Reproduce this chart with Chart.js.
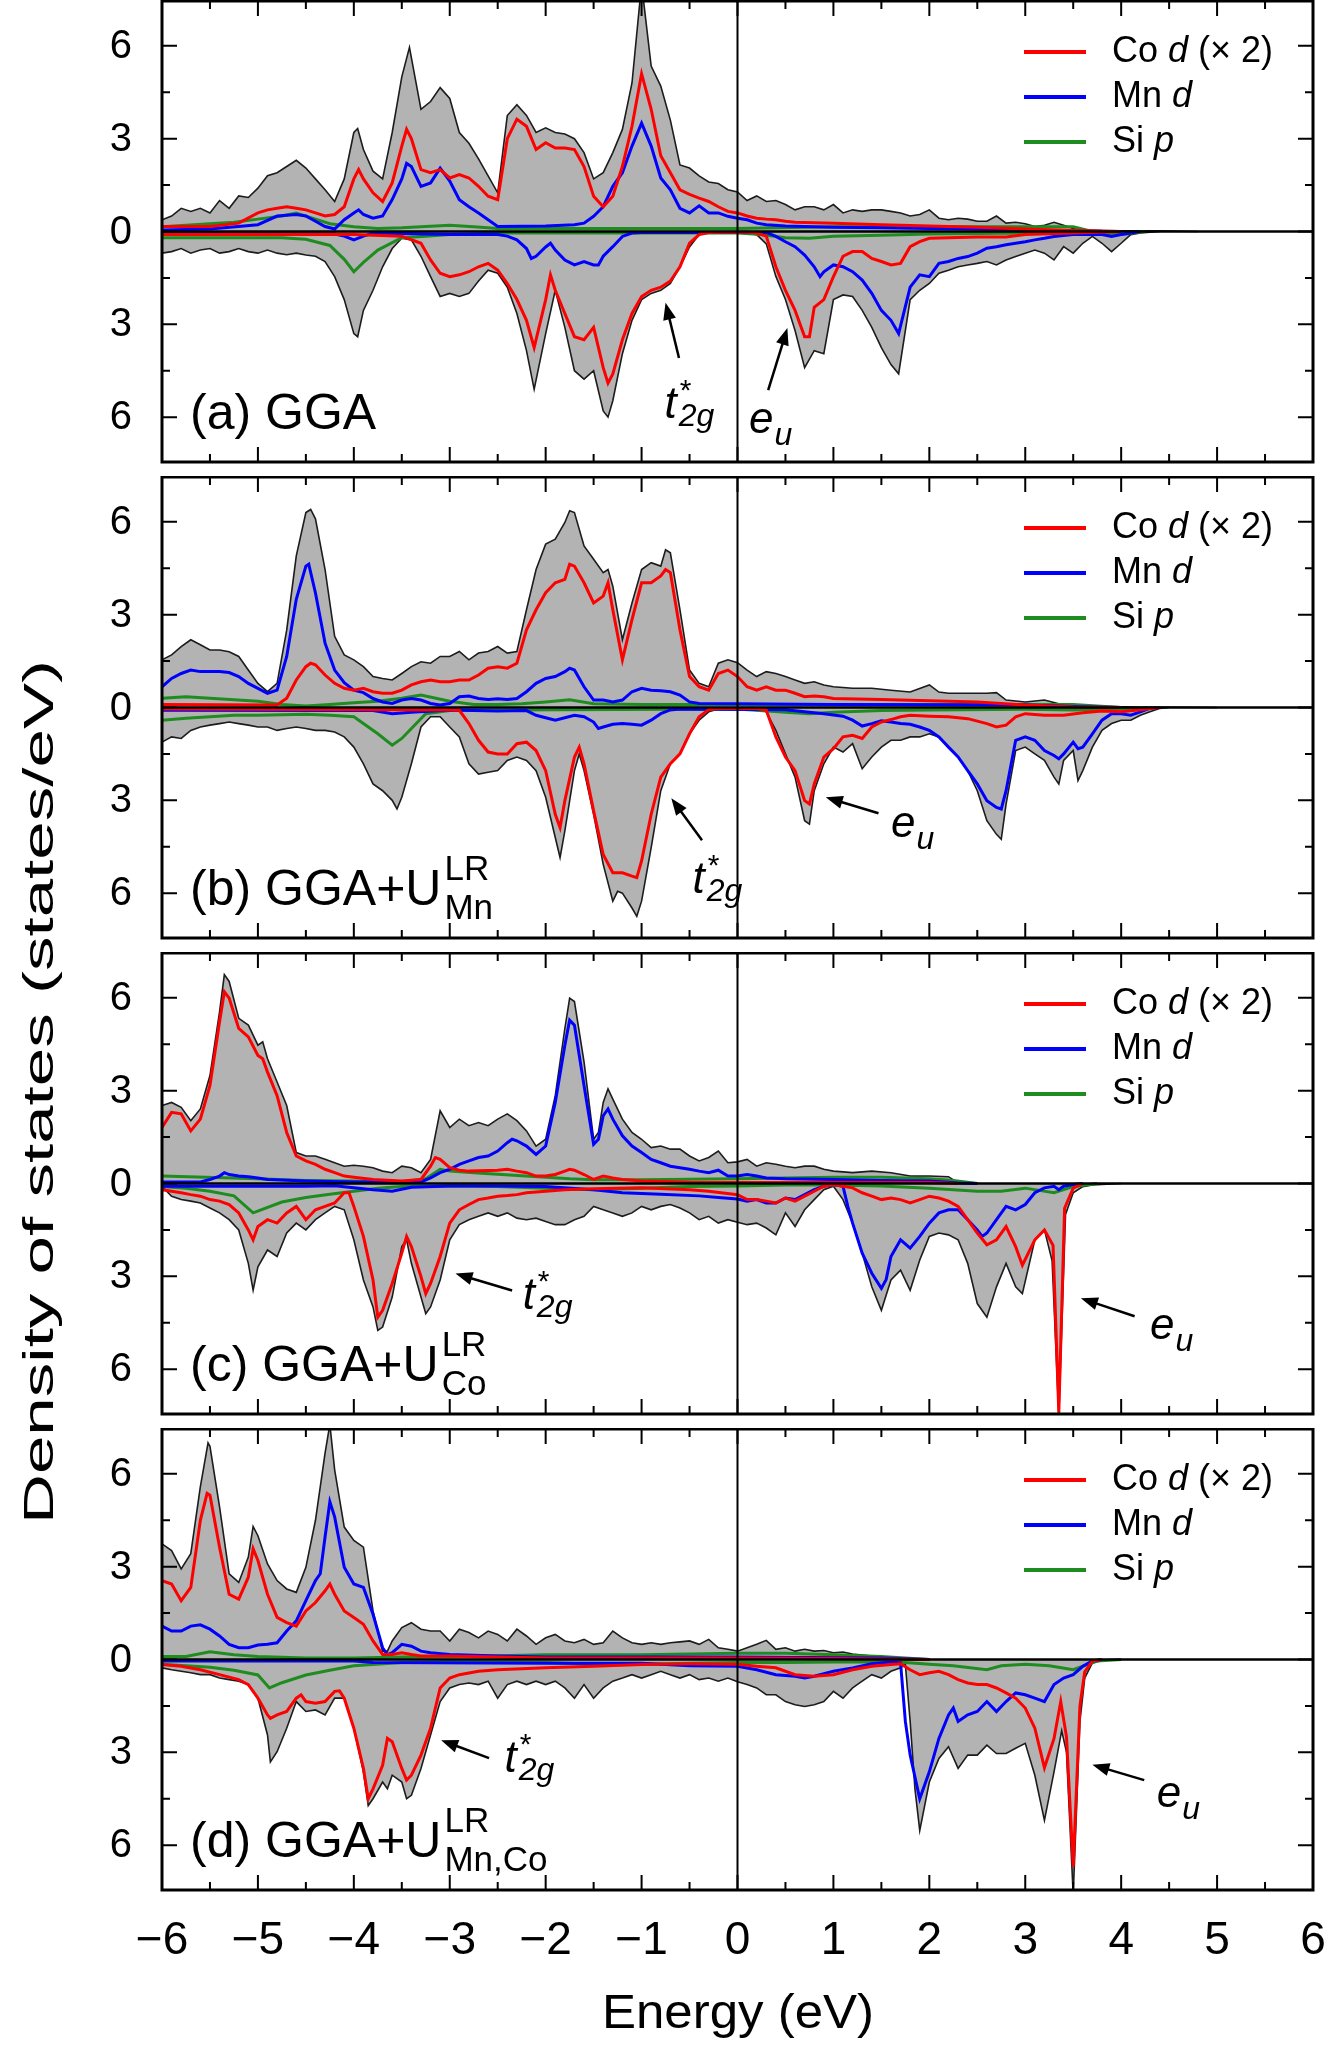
<!DOCTYPE html>
<html>
<head>
<meta charset="utf-8">
<script src="https://cdn.jsdelivr.net/npm/chart.js@4.4.1/dist/chart.umd.min.js"></script>
<style>
  body { margin: 0; background: #fff; }
  #wrap { position: relative; width: 1329px; height: 2052px; font-family: "Liberation Sans", Arial, sans-serif; color: #000; }
  #wrap canvas { position: absolute; left: 0; }
  .axisTitle { position: absolute; white-space: nowrap; line-height: 1; }
</style>
</head>
<body>
<div id="wrap">
  <canvas id="dosA" width="1329" height="476" style="top:0px;width:1329px;height:476px"></canvas>
  <canvas id="dosB" width="1329" height="476" style="top:476px;width:1329px;height:476px"></canvas>
  <canvas id="dosC" width="1329" height="476" style="top:952px;width:1329px;height:476px"></canvas>
  <canvas id="dosD" width="1329" height="624" style="top:1428px;width:1329px;height:624px"></canvas>
  <div id="yTitle" class="axisTitle" style="left:39px;top:1092px;font-size:42px">Density of states (states/eV)</div>
  <div id="xTitle" class="axisTitle" style="left:738px;top:2012px;font-size:48px">Energy (eV)</div>
</div>
<script>
// ---- axis ticks ----
const xTickLabels = [-6, -5, -4, -3, -2, -1, 0, 1, 2, 3, 4, 5, 6]
const yTickLabels = [-6, -3, 0, 3, 6]
const yLimit = 7.45

// ---- (a) GGA : [energy, DOS] pairs, spin down negative ----
const totalUpA = [[-6,0.38],[-5.9,0.5],[-5.8,0.75],[-5.7,0.65],[-5.6,0.75],[-5.5,0.6],[-5.4,1.0],[-5.3,0.75],[-5.2,1.15],[-5.1,1.1],[-5,1.4],[-4.9,1.8],[-4.8,1.9],[-4.7,2.1],[-4.6,2.3],[-4.5,2.05],[-4.4,1.7],[-4.3,1.35],[-4.2,0.97],[-4.1,1.7],[-4.0,3.2],[-3.96,3.33],[-3.9,2.65],[-3.8,1.95],[-3.7,1.7],[-3.6,3.2],[-3.5,5.0],[-3.42,5.95],[-3.3,3.95],[-3.2,4.2],[-3.1,4.65],[-3.0,4.3],[-2.9,3.2],[-2.8,2.85],[-2.7,2.35],[-2.6,1.8],[-2.5,1.25],[-2.4,3.75],[-2.3,4.1],[-2.2,3.75],[-2.1,3.2],[-2.0,3.35],[-1.9,3.2],[-1.8,3.15],[-1.7,3.0],[-1.6,2.55],[-1.5,1.7],[-1.4,1.9],[-1.3,2.55],[-1.2,3.3],[-1.1,4.8],[-1.0,8.0],[-0.9,5.35],[-0.8,4.7],[-0.7,3.6],[-0.6,2.15],[-0.5,2.05],[-0.4,1.8],[-0.3,1.6],[-0.2,1.55],[-0.1,1.35],[0,1.28],[0.1,1.0],[0.2,1.15],[0.3,0.97],[0.4,1.0],[0.5,0.87],[0.6,0.7],[0.7,0.8],[0.8,0.8],[0.9,0.7],[1.0,0.87],[1.1,0.6],[1.2,0.7],[1.3,0.65],[1.4,0.7],[1.5,0.7],[1.6,0.65],[1.7,0.6],[1.8,0.5],[1.9,0.55],[2.0,0.7],[2.1,0.43],[2.2,0.38],[2.3,0.43],[2.4,0.4],[2.5,0.33],[2.6,0.33],[2.7,0.5],[2.8,0.27],[2.9,0.3],[3.0,0.25],[3.1,0.16],[3.2,0.2],[3.3,0.3],[3.4,0.2],[3.5,0.1],[3.6,0.05],[3.8,0.03],[4.4,0.02],[4.8,0]]
const totalDownA = [[-6,-0.7],[-5.9,-0.65],[-5.8,-0.55],[-5.7,-0.7],[-5.6,-0.6],[-5.5,-0.55],[-5.4,-0.7],[-5.3,-0.65],[-5.2,-0.55],[-5.1,-0.65],[-5,-0.7],[-4.9,-0.6],[-4.8,-0.7],[-4.7,-0.75],[-4.6,-0.7],[-4.5,-0.76],[-4.4,-0.8],[-4.3,-0.97],[-4.2,-1.46],[-4.1,-2.2],[-4.0,-3.3],[-3.96,-3.4],[-3.9,-2.55],[-3.8,-1.9],[-3.7,-1.14],[-3.6,-0.55],[-3.5,-0.22],[-3.4,-0.27],[-3.3,-0.8],[-3.2,-1.46],[-3.1,-2.1],[-3.0,-2.0],[-2.9,-2.1],[-2.8,-2.0],[-2.7,-1.6],[-2.6,-1.25],[-2.5,-1.35],[-2.4,-1.8],[-2.3,-2.65],[-2.2,-3.85],[-2.12,-5.1],[-2.0,-3.3],[-1.9,-1.9],[-1.8,-3.1],[-1.7,-4.5],[-1.6,-4.77],[-1.5,-4.5],[-1.4,-5.8],[-1.35,-6.0],[-1.3,-5.47],[-1.2,-3.95],[-1.1,-2.87],[-1.0,-2.2],[-0.9,-2.0],[-0.8,-1.9],[-0.7,-1.68],[-0.6,-1.14],[-0.5,-0.5],[-0.4,-0.1],[-0.3,-0.05],[0,-0.04],[0.1,-0.05],[0.2,-0.1],[0.3,-0.4],[0.4,-1.45],[0.5,-2.2],[0.6,-3.2],[0.7,-4.4],[0.8,-3.85],[0.9,-3.95],[1.0,-2.2],[1.1,-2.05],[1.2,-2.1],[1.3,-2.55],[1.4,-3.1],[1.5,-3.75],[1.6,-4.3],[1.68,-4.6],[1.8,-2.2],[1.9,-1.9],[2.0,-1.68],[2.1,-1.35],[2.2,-1.25],[2.3,-1.14],[2.4,-1.08],[2.5,-1.03],[2.6,-0.97],[2.7,-1.08],[2.8,-0.92],[2.9,-0.81],[3.0,-0.7],[3.1,-0.6],[3.2,-0.7],[3.3,-0.92],[3.4,-0.49],[3.5,-0.7],[3.6,-0.38],[3.7,-0.16],[3.8,-0.38],[3.9,-0.65],[4.0,-0.38],[4.1,-0.1],[4.2,-0.05],[4.4,0]]
const coUpA = [[-6,0.16],[-5.5,0.16],[-5.2,0.27],[-5,0.6],[-4.9,0.7],[-4.8,0.75],[-4.7,0.8],[-4.6,0.75],[-4.5,0.7],[-4.4,0.6],[-4.3,0.5],[-4.2,0.55],[-4.1,0.8],[-4.0,1.7],[-3.95,2.0],[-3.9,1.7],[-3.8,1.25],[-3.7,0.97],[-3.6,1.57],[-3.5,2.76],[-3.45,3.3],[-3.4,3.0],[-3.3,2.0],[-3.2,1.9],[-3.1,2.0],[-3.0,1.73],[-2.9,1.84],[-2.8,1.73],[-2.7,1.46],[-2.6,1.14],[-2.5,1.03],[-2.4,3.0],[-2.3,3.63],[-2.2,3.4],[-2.1,2.65],[-2.0,2.87],[-1.9,2.7],[-1.8,2.7],[-1.7,2.65],[-1.6,2.1],[-1.5,1.14],[-1.4,0.8],[-1.3,1.14],[-1.2,2.1],[-1.1,3.4],[-1.0,5.1],[-0.9,3.95],[-0.8,2.45],[-0.7,1.9],[-0.6,1.35],[-0.5,1.2],[-0.4,1.08],[-0.3,0.97],[-0.2,0.8],[-0.1,0.65],[0,0.6],[0.1,0.5],[0.2,0.43],[0.3,0.4],[0.4,0.38],[0.5,0.33],[0.6,0.3],[1.0,0.27],[1.5,0.22],[2.0,0.18],[2.5,0.14],[3.0,0.08],[3.5,0.03],[4.0,0]]
const coDownA = [[-6,-0.1],[-4.0,-0.1],[-3.5,-0.15],[-3.3,-0.38],[-3.2,-0.92],[-3.1,-1.35],[-3.0,-1.46],[-2.9,-1.4],[-2.8,-1.3],[-2.7,-1.14],[-2.6,-1.03],[-2.5,-1.25],[-2.4,-1.68],[-2.3,-2.2],[-2.2,-2.87],[-2.12,-3.75],[-2.0,-2.2],[-1.95,-1.4],[-1.9,-1.9],[-1.8,-2.65],[-1.7,-3.4],[-1.6,-3.5],[-1.5,-3.1],[-1.4,-4.4],[-1.35,-4.9],[-1.3,-4.6],[-1.2,-3.5],[-1.1,-2.65],[-1.0,-2.1],[-0.9,-1.9],[-0.8,-1.8],[-0.7,-1.6],[-0.6,-1.14],[-0.5,-0.38],[-0.4,-0.1],[-0.3,-0.03],[0.1,-0.02],[0.2,-0.05],[0.3,-0.15],[0.4,-1.14],[0.5,-1.9],[0.6,-2.55],[0.7,-3.4],[0.75,-3.4],[0.8,-2.45],[0.9,-2.2],[1.0,-1.46],[1.1,-0.8],[1.2,-0.65],[1.3,-0.65],[1.4,-0.87],[1.5,-0.97],[1.6,-1.08],[1.7,-1.03],[1.8,-0.49],[1.9,-0.33],[2.0,-0.22],[2.5,-0.18],[2.8,-0.18],[3.0,-0.1],[3.5,-0.05],[4.0,0]]
const mnUpA = [[-6,0.05],[-5.5,0.08],[-5.0,0.22],[-4.8,0.5],[-4.6,0.55],[-4.5,0.5],[-4.4,0.33],[-4.3,0.16],[-4.2,0.08],[-4.1,0.38],[-4.0,0.6],[-3.95,0.7],[-3.9,0.55],[-3.8,0.43],[-3.7,0.5],[-3.6,1.03],[-3.5,1.7],[-3.45,2.2],[-3.4,2.1],[-3.3,1.46],[-3.2,1.57],[-3.1,2.05],[-3.0,1.63],[-2.9,1.03],[-2.8,0.8],[-2.7,0.6],[-2.6,0.38],[-2.5,0.16],[-2.0,0.18],[-1.7,0.22],[-1.6,0.27],[-1.5,0.49],[-1.4,0.8],[-1.3,1.46],[-1.2,1.9],[-1.1,2.76],[-1.0,3.5],[-0.9,2.76],[-0.8,1.73],[-0.7,1.35],[-0.6,0.75],[-0.5,0.6],[-0.4,0.83],[-0.3,0.6],[-0.2,0.6],[-0.1,0.49],[0,0.43],[0.1,0.38],[0.2,0.27],[0.3,0.22],[0.5,0.18],[1.0,0.14],[1.5,0.12],[2.0,0.1],[2.5,0.08],[3.0,0.05],[3.5,0.02],[4.0,0]]
const mnDownA = [[-6,-0.05],[-4.2,-0.08],[-4.1,-0.15],[-4.0,-0.27],[-3.9,-0.15],[-3.8,-0.05],[-3.0,-0.1],[-2.5,-0.1],[-2.4,-0.15],[-2.3,-0.27],[-2.2,-0.55],[-2.15,-0.87],[-2.1,-0.8],[-2.0,-0.5],[-1.95,-0.38],[-1.9,-0.6],[-1.8,-0.92],[-1.7,-1.08],[-1.6,-0.97],[-1.5,-1.08],[-1.45,-1.08],[-1.4,-0.8],[-1.3,-0.49],[-1.2,-0.16],[-1.1,-0.05],[-1.0,-0.03],[0.3,-0.03],[0.4,-0.16],[0.5,-0.33],[0.6,-0.49],[0.7,-0.76],[0.8,-1.14],[0.86,-1.46],[0.9,-1.3],[1.0,-1.08],[1.1,-1.14],[1.2,-1.3],[1.3,-1.57],[1.4,-2.0],[1.5,-2.55],[1.6,-2.87],[1.68,-3.3],[1.8,-1.8],[1.9,-1.4],[2.0,-1.46],[2.1,-1.03],[2.2,-0.97],[2.3,-0.87],[2.4,-0.81],[2.5,-0.7],[2.6,-0.54],[2.7,-0.49],[2.8,-0.43],[2.9,-0.38],[3.0,-0.33],[3.1,-0.27],[3.2,-0.22],[3.3,-0.16],[3.5,-0.1],[3.8,-0.1],[3.9,-0.16],[4.0,-0.1],[4.1,-0.05],[4.2,0]]
const siUpA = [[-6,0.15],[-5.75,0.2],[-5.5,0.25],[-5.25,0.3],[-5,0.4],[-4.75,0.5],[-4.6,0.6],[-4.4,0.4],[-4.25,0.25],[-4,0.15],[-3.75,0.1],[-3.5,0.12],[-3,0.2],[-2.75,0.15],[-2.5,0.1],[0,0.1],[1,0.15],[2,0.15],[3,0.15],[3.5,0.15],[3.7,0]]
const siDownA = [[-6,-0.2],[-4.75,-0.2],[-4.5,-0.25],[-4.25,-0.45],[-4.1,-0.9],[-4.0,-1.3],[-3.9,-1.0],[-3.75,-0.6],[-3.5,-0.2],[-3.25,-0.15],[-3,-0.1],[-2.5,-0.05],[0,-0.05],[0.25,-0.1],[0.5,-0.2],[0.75,-0.22],[1,-0.15],[1.5,-0.12],[2,-0.08],[3,-0.05],[3.75,-0.08],[4,-0.1],[4.25,0]]

// ---- (b) GGA+U(Mn) ----
const totalUpB = [[-6,1.54],[-5.9,1.7],[-5.8,1.97],[-5.7,2.19],[-5.6,2.03],[-5.5,1.86],[-5.4,1.86],[-5.3,1.8],[-5.2,1.65],[-5.1,1.21],[-5.0,0.78],[-4.9,0.51],[-4.8,0.78],[-4.7,2.5],[-4.6,4.9],[-4.5,6.3],[-4.45,6.4],[-4.4,6.1],[-4.3,4.46],[-4.2,2.3],[-4.1,1.7],[-4.0,1.54],[-3.9,1.32],[-3.8,1.0],[-3.7,0.94],[-3.6,0.89],[-3.5,1.1],[-3.4,1.32],[-3.3,1.48],[-3.2,1.43],[-3.1,1.65],[-3.0,1.65],[-2.9,1.81],[-2.8,1.54],[-2.7,1.76],[-2.6,1.81],[-2.5,1.97],[-2.4,1.76],[-2.3,1.81],[-2.2,3.16],[-2.1,4.46],[-2.0,5.28],[-1.9,5.44],[-1.8,5.98],[-1.75,6.36],[-1.7,6.3],[-1.6,5.22],[-1.5,4.79],[-1.4,4.36],[-1.35,4.46],[-1.3,3.92],[-1.2,2.19],[-1.1,3.38],[-1.0,4.46],[-0.9,4.68],[-0.8,4.57],[-0.75,5.1],[-0.7,5.0],[-0.6,3.16],[-0.5,1.21],[-0.4,0.78],[-0.3,0.67],[-0.2,1.43],[-0.1,1.54],[0,1.45],[0.1,1.21],[0.2,1.0],[0.3,1.16],[0.4,1.1],[0.5,1.0],[0.6,0.89],[0.7,0.78],[0.8,0.83],[0.9,0.73],[1.0,0.67],[1.2,0.62],[1.4,0.62],[1.6,0.56],[1.8,0.5],[2.0,0.73],[2.1,0.5],[2.2,0.46],[2.4,0.46],[2.6,0.46],[2.7,0.48],[2.8,0.24],[3.0,0.18],[3.2,0.24],[3.4,0.08],[3.6,0.04],[4.0,0.02],[5.0,0]]
const totalDownB = [[-6,-1.12],[-5.9,-0.95],[-5.8,-1.0],[-5.7,-0.74],[-5.6,-0.63],[-5.5,-0.57],[-5.4,-0.52],[-5.3,-0.47],[-5.2,-0.52],[-5.1,-0.57],[-5.0,-0.63],[-4.9,-0.63],[-4.8,-0.74],[-4.7,-0.68],[-4.6,-0.63],[-4.5,-0.68],[-4.4,-0.74],[-4.3,-0.74],[-4.2,-0.79],[-4.1,-0.95],[-4.0,-1.28],[-3.9,-1.82],[-3.8,-2.47],[-3.7,-2.69],[-3.6,-3.0],[-3.55,-3.28],[-3.5,-2.9],[-3.4,-1.82],[-3.3,-0.63],[-3.2,-0.3],[-3.1,-0.3],[-3.0,-0.63],[-2.9,-0.95],[-2.8,-1.82],[-2.7,-2.15],[-2.6,-2.09],[-2.5,-2.04],[-2.4,-1.71],[-2.3,-1.6],[-2.2,-1.71],[-2.1,-2.04],[-2.0,-2.9],[-1.9,-4.2],[-1.85,-4.85],[-1.8,-3.99],[-1.7,-2.04],[-1.65,-1.5],[-1.6,-2.04],[-1.5,-3.45],[-1.4,-5.07],[-1.3,-6.26],[-1.25,-5.94],[-1.2,-6.0],[-1.1,-6.48],[-1.05,-6.75],[-1.0,-6.26],[-0.9,-4.53],[-0.8,-2.69],[-0.7,-1.82],[-0.6,-1.5],[-0.5,-0.85],[-0.4,-0.41],[-0.3,-0.14],[-0.2,-0.05],[0.2,-0.03],[0.3,-0.14],[0.4,-0.74],[0.5,-1.5],[0.6,-2.25],[0.7,-3.66],[0.75,-3.77],[0.8,-2.69],[0.9,-1.82],[1.0,-1.28],[1.1,-1.44],[1.2,-1.17],[1.3,-1.98],[1.4,-1.6],[1.5,-1.28],[1.6,-1.06],[1.7,-1.06],[1.8,-0.95],[1.9,-0.95],[2.0,-0.85],[2.1,-0.95],[2.2,-1.28],[2.3,-1.6],[2.4,-2.04],[2.5,-2.69],[2.6,-3.66],[2.7,-4.1],[2.75,-4.26],[2.8,-3.12],[2.9,-1.39],[3.0,-1.28],[3.1,-1.5],[3.2,-1.71],[3.3,-2.25],[3.35,-2.47],[3.4,-1.71],[3.5,-1.39],[3.55,-2.36],[3.6,-2.04],[3.7,-1.28],[3.8,-0.74],[3.9,-0.52],[4.0,-0.41],[4.1,-0.41],[4.2,-0.25],[4.3,-0.14],[4.4,-0.03],[4.5,0]]
const coUpB = [[-6,0.1],[-4.8,0.08],[-4.7,0.3],[-4.6,0.89],[-4.5,1.32],[-4.45,1.43],[-4.4,1.38],[-4.3,1.05],[-4.2,0.78],[-4.1,0.62],[-4.0,0.56],[-3.9,0.62],[-3.8,0.51],[-3.7,0.46],[-3.6,0.46],[-3.5,0.56],[-3.4,0.73],[-3.3,0.83],[-3.2,0.89],[-3.1,0.83],[-3.0,0.83],[-2.9,0.89],[-2.8,0.89],[-2.7,1.05],[-2.6,1.27],[-2.5,1.32],[-2.4,1.27],[-2.3,1.43],[-2.2,2.51],[-2.1,3.16],[-2.0,3.71],[-1.9,4.03],[-1.8,4.14],[-1.75,4.63],[-1.7,4.57],[-1.6,4.03],[-1.5,3.38],[-1.4,3.6],[-1.35,4.03],[-1.3,3.16],[-1.2,1.54],[-1.1,2.84],[-1.0,4.03],[-0.9,4.03],[-0.8,4.25],[-0.75,4.46],[-0.7,4.36],[-0.6,2.51],[-0.5,1.0],[-0.4,0.67],[-0.3,0.56],[-0.2,1.1],[-0.1,1.21],[0,1.0],[0.1,0.67],[0.2,0.56],[0.3,0.67],[0.4,0.56],[0.5,0.56],[0.6,0.46],[0.7,0.35],[0.8,0.37],[0.9,0.35],[1.0,0.29],[1.5,0.26],[2.0,0.22],[2.5,0.18],[3.0,0.08],[3.5,0.02],[4.0,0]]
const coDownB = [[-6,-0.05],[-3.0,-0.08],[-2.9,-0.09],[-2.8,-0.52],[-2.7,-1.06],[-2.6,-1.44],[-2.5,-1.5],[-2.4,-1.5],[-2.3,-1.17],[-2.2,-1.12],[-2.1,-1.39],[-2.0,-2.04],[-1.9,-3.45],[-1.85,-3.88],[-1.8,-3.01],[-1.7,-1.6],[-1.65,-1.28],[-1.6,-1.82],[-1.5,-3.34],[-1.4,-4.75],[-1.3,-5.34],[-1.2,-5.34],[-1.1,-5.45],[-1.05,-5.5],[-1.0,-4.96],[-0.9,-3.45],[-0.8,-2.25],[-0.7,-1.82],[-0.6,-1.5],[-0.5,-0.85],[-0.4,-0.3],[-0.3,-0.07],[-0.2,-0.03],[0.2,-0.03],[0.3,-0.09],[0.4,-0.95],[0.5,-1.6],[0.6,-2.04],[0.7,-3.01],[0.75,-3.12],[0.8,-2.47],[0.9,-1.6],[1.0,-1.33],[1.1,-0.95],[1.2,-0.9],[1.3,-1.0],[1.4,-0.63],[1.5,-0.47],[1.6,-0.39],[1.7,-0.3],[1.8,-0.25],[2.0,-0.28],[2.2,-0.3],[2.4,-0.36],[2.6,-0.52],[2.7,-0.63],[2.8,-0.57],[2.9,-0.3],[3.0,-0.2],[3.2,-0.25],[3.4,-0.25],[3.6,-0.17],[3.8,-0.11],[4.0,-0.14],[4.2,-0.07],[4.4,0]]
const mnUpB = [[-6,0.67],[-5.9,0.94],[-5.8,1.1],[-5.7,1.21],[-5.6,1.16],[-5.5,1.16],[-5.4,1.16],[-5.3,1.13],[-5.2,1.0],[-5.1,0.78],[-5.0,0.62],[-4.9,0.46],[-4.8,0.56],[-4.7,1.65],[-4.6,3.5],[-4.5,4.57],[-4.47,4.63],[-4.4,3.7],[-4.3,2.08],[-4.2,1.21],[-4.1,0.8],[-4.0,0.56],[-3.9,0.48],[-3.8,0.29],[-3.7,0.18],[-3.6,0.13],[-3.5,0.24],[-3.4,0.29],[-3.3,0.24],[-3.2,0.13],[-3.1,0.08],[-3.0,0.13],[-2.9,0.35],[-2.8,0.37],[-2.7,0.29],[-2.6,0.26],[-2.5,0.28],[-2.4,0.26],[-2.3,0.29],[-2.2,0.51],[-2.1,0.78],[-2.0,0.94],[-1.9,1.0],[-1.8,1.16],[-1.75,1.27],[-1.7,1.21],[-1.6,0.67],[-1.5,0.24],[-1.4,0.24],[-1.3,0.18],[-1.2,0.24],[-1.1,0.51],[-1.0,0.62],[-0.9,0.56],[-0.8,0.54],[-0.7,0.51],[-0.6,0.4],[-0.5,0.18],[-0.4,0.13],[0,0.12],[1,0.1],[3,0.08],[3.5,0.03],[4,0]]
const mnDownB = [[-6,-0.09],[-3.8,-0.1],[-3.6,-0.2],[-3.4,-0.15],[-3.0,-0.08],[-2.5,-0.11],[-2.2,-0.1],[-2.1,-0.25],[-2.0,-0.33],[-1.9,-0.41],[-1.8,-0.33],[-1.7,-0.25],[-1.6,-0.3],[-1.5,-0.47],[-1.45,-0.68],[-1.4,-0.63],[-1.3,-0.54],[-1.2,-0.52],[-1.1,-0.54],[-1.0,-0.57],[-0.9,-0.41],[-0.8,-0.2],[-0.7,-0.08],[-0.6,-0.05],[0.5,-0.07],[0.7,-0.14],[0.9,-0.2],[1.1,-0.28],[1.2,-0.41],[1.3,-0.6],[1.4,-0.52],[1.5,-0.43],[1.6,-0.47],[1.7,-0.52],[1.8,-0.54],[1.9,-0.63],[2.0,-0.74],[2.1,-0.95],[2.2,-1.28],[2.3,-1.6],[2.4,-2.04],[2.5,-2.47],[2.6,-3.01],[2.7,-3.23],[2.75,-3.28],[2.8,-2.69],[2.9,-1.06],[3.0,-0.95],[3.1,-1.06],[3.2,-1.39],[3.3,-1.55],[3.35,-1.66],[3.4,-1.5],[3.5,-1.12],[3.55,-1.33],[3.6,-1.28],[3.7,-0.85],[3.8,-0.41],[3.9,-0.2],[4.0,-0.2],[4.1,-0.25],[4.2,-0.14],[4.3,-0.03],[4.4,0]]
const siUpB = [[-6,0.3],[-5.75,0.35],[-5.5,0.3],[-5.25,0.25],[-5,0.2],[-4.75,0.1],[-4.5,0.05],[-4.25,0.1],[-4,0.15],[-3.75,0.2],[-3.5,0.3],[-3.3,0.4],[-3,0.2],[-2.75,0.1],[-2.5,0.1],[-2.25,0.12],[-2,0.18],[-1.75,0.25],[-1.5,0.12],[-1,0.1],[3.5,0.1],[3.75,0.05],[4,0]]
const siDownB = [[-6,-0.41],[-5.75,-0.35],[-5.5,-0.3],[-5.25,-0.25],[-5,-0.25],[-4.5,-0.22],[-4.25,-0.25],[-4,-0.3],[-3.75,-0.85],[-3.6,-1.22],[-3.5,-1.0],[-3.25,-0.2],[-3,-0.1],[-2.5,-0.08],[0,-0.05],[0.5,-0.15],[0.75,-0.2],[1,-0.15],[1.5,-0.1],[2,-0.08],[3,-0.06],[3.5,-0.08],[4,-0.05],[4.25,0]]

// ---- (c) GGA+U(Co) ----
const totalUpC = [[-6,2.52],[-5.9,2.62],[-5.8,2.46],[-5.7,2.03],[-5.6,2.41],[-5.5,3.49],[-5.4,5.55],[-5.35,6.75],[-5.3,6.53],[-5.2,5.34],[-5.1,5.12],[-5.0,4.47],[-4.95,4.58],[-4.9,4.03],[-4.8,3.28],[-4.7,2.52],[-4.6,1.0],[-4.5,0.89],[-4.4,0.89],[-4.3,0.78],[-4.2,0.67],[-4.1,0.56],[-4.0,0.59],[-3.9,0.56],[-3.8,0.51],[-3.7,0.4],[-3.6,0.35],[-3.5,0.56],[-3.4,0.51],[-3.3,0.35],[-3.2,0.78],[-3.1,2.35],[-3.0,1.81],[-2.9,2.08],[-2.8,1.87],[-2.7,1.97],[-2.6,1.87],[-2.5,2.08],[-2.4,2.25],[-2.3,2.03],[-2.2,1.7],[-2.1,1.21],[-2.0,1.43],[-1.9,2.84],[-1.8,5.01],[-1.75,5.99],[-1.7,5.88],[-1.6,3.93],[-1.5,1.43],[-1.45,1.65],[-1.4,2.62],[-1.35,3.06],[-1.3,2.73],[-1.2,2.08],[-1.1,1.65],[-1.0,1.43],[-0.9,1.16],[-0.8,1.21],[-0.7,1.11],[-0.6,1.11],[-0.5,0.89],[-0.4,0.73],[-0.3,0.84],[-0.2,1.05],[-0.1,0.67],[0,0.7],[0.1,0.78],[0.2,0.56],[0.3,0.67],[0.4,0.62],[0.5,0.56],[0.6,0.51],[0.7,0.56],[0.8,0.56],[0.9,0.46],[1.0,0.4],[1.2,0.35],[1.4,0.4],[1.6,0.35],[1.8,0.24],[2.0,0.24],[2.2,0.22],[2.3,0.02],[2.5,0]]
const totalDownC = [[-6,-0.09],[-5.9,-0.41],[-5.8,-0.52],[-5.7,-0.57],[-5.6,-0.63],[-5.5,-0.79],[-5.4,-0.95],[-5.3,-1.17],[-5.2,-1.5],[-5.1,-2.58],[-5.05,-3.45],[-5.0,-2.69],[-4.9,-2.15],[-4.8,-2.36],[-4.7,-1.6],[-4.6,-1.28],[-4.5,-1.5],[-4.4,-1.17],[-4.3,-0.95],[-4.2,-0.74],[-4.1,-0.85],[-4.0,-1.82],[-3.9,-3.12],[-3.8,-3.99],[-3.75,-4.75],[-3.7,-4.64],[-3.6,-3.67],[-3.5,-2.04],[-3.45,-1.82],[-3.4,-2.58],[-3.3,-3.67],[-3.25,-4.21],[-3.2,-3.99],[-3.1,-3.12],[-3.0,-1.82],[-2.9,-1.33],[-2.8,-1.17],[-2.7,-1.06],[-2.6,-0.95],[-2.5,-1.06],[-2.4,-0.95],[-2.3,-1.12],[-2.2,-1.17],[-2.1,-1.12],[-2.0,-1.23],[-1.9,-1.33],[-1.8,-1.33],[-1.7,-1.17],[-1.6,-1.06],[-1.5,-0.74],[-1.4,-0.85],[-1.3,-0.95],[-1.2,-1.06],[-1.1,-0.95],[-1.0,-0.74],[-0.9,-0.85],[-0.8,-0.74],[-0.7,-0.68],[-0.6,-0.79],[-0.5,-0.95],[-0.4,-1.17],[-0.3,-1.06],[-0.2,-1.28],[-0.1,-1.17],[0,-1.25],[0.1,-1.33],[0.2,-1.28],[0.3,-1.44],[0.4,-1.66],[0.5,-0.95],[0.6,-1.39],[0.7,-0.85],[0.8,-0.52],[0.9,-0.2],[1.0,-0.09],[1.1,-0.52],[1.2,-1.28],[1.3,-2.25],[1.4,-3.34],[1.5,-4.1],[1.6,-3.12],[1.7,-2.8],[1.8,-3.45],[1.9,-2.47],[2.0,-1.71],[2.1,-1.6],[2.2,-1.66],[2.3,-1.82],[2.4,-2.58],[2.5,-3.88],[2.6,-4.32],[2.7,-3.34],[2.8,-2.58],[2.9,-3.34],[2.97,-3.56],[3.1,-1.82],[3.2,-1.5],[3.28,-2.5],[3.35,-7.5],[3.42,-1.0],[3.5,-0.3],[3.6,-0.1],[3.7,-0.05],[4.0,0]]
const coUpC = [[-6,1.81],[-5.9,2.3],[-5.8,2.25],[-5.7,1.7],[-5.6,2.08],[-5.5,3.17],[-5.4,5.23],[-5.35,6.2],[-5.3,5.99],[-5.2,5.01],[-5.1,4.74],[-5.0,4.14],[-4.95,4.03],[-4.9,3.6],[-4.8,2.84],[-4.7,1.65],[-4.6,0.89],[-4.5,0.73],[-4.4,0.62],[-4.3,0.46],[-4.2,0.35],[-4.1,0.24],[-4.0,0.2],[-3.8,0.13],[-3.5,0.08],[-3.3,0.13],[-3.2,0.56],[-3.15,0.84],[-3.1,0.78],[-3.0,0.51],[-2.9,0.43],[-2.8,0.4],[-2.5,0.43],[-2.4,0.46],[-2.3,0.4],[-2.2,0.35],[-2.1,0.24],[-2.0,0.24],[-1.9,0.29],[-1.8,0.4],[-1.75,0.46],[-1.7,0.43],[-1.6,0.29],[-1.5,0.13],[-1.4,0.24],[-1.3,0.18],[-1.2,0.13],[-1.0,0.08],[-0.5,0.04],[2,0.03],[2.3,0]]
const coDownC = [[-6,-0.2],[-5.9,-0.25],[-5.8,-0.3],[-5.7,-0.36],[-5.6,-0.41],[-5.5,-0.52],[-5.4,-0.57],[-5.3,-0.68],[-5.2,-0.95],[-5.1,-1.5],[-5.05,-1.82],[-5.0,-1.39],[-4.9,-1.17],[-4.8,-1.28],[-4.7,-0.95],[-4.6,-0.74],[-4.5,-1.17],[-4.4,-0.85],[-4.3,-0.74],[-4.2,-0.63],[-4.1,-0.3],[-4.05,-0.3],[-4.0,-0.74],[-3.9,-1.71],[-3.8,-3.12],[-3.75,-4.32],[-3.7,-4.1],[-3.6,-3.23],[-3.5,-2.25],[-3.45,-1.71],[-3.4,-2.04],[-3.3,-3.01],[-3.25,-3.56],[-3.2,-3.23],[-3.1,-2.36],[-3.0,-1.28],[-2.9,-0.85],[-2.8,-0.68],[-2.7,-0.52],[-2.6,-0.47],[-2.5,-0.41],[-2.4,-0.39],[-2.3,-0.36],[-2.2,-0.3],[-2.0,-0.25],[-1.8,-0.2],[-1.5,-0.17],[-1.0,-0.14],[-0.5,-0.2],[-0.3,-0.25],[0,-0.36],[0.1,-0.52],[0.2,-0.52],[0.3,-0.57],[0.4,-0.63],[0.5,-0.47],[0.6,-0.57],[0.7,-0.41],[0.8,-0.25],[0.9,-0.09],[1.0,-0.03],[1.1,-0.09],[1.2,-0.14],[1.3,-0.3],[1.4,-0.41],[1.5,-0.52],[1.6,-0.47],[1.7,-0.52],[1.8,-0.63],[1.9,-0.52],[2.0,-0.41],[2.1,-0.47],[2.2,-0.57],[2.3,-0.74],[2.4,-1.17],[2.5,-1.6],[2.6,-1.98],[2.7,-1.82],[2.8,-1.39],[2.9,-2.04],[2.97,-2.64],[3.1,-1.82],[3.2,-1.5],[3.29,-2.0],[3.35,-7.4],[3.41,-0.8],[3.5,-0.15],[3.6,0]]
const mnUpC = [[-6,0.05],[-5.6,0.05],[-5.5,0.13],[-5.4,0.24],[-5.35,0.35],[-5.3,0.29],[-5.2,0.24],[-5.1,0.22],[-5.0,0.18],[-4.9,0.13],[-4.5,0.08],[-4.0,0.05],[-3.3,0.05],[-3.2,0.18],[-3.1,0.35],[-3.0,0.46],[-2.9,0.62],[-2.8,0.73],[-2.7,0.84],[-2.6,0.89],[-2.5,1.05],[-2.4,1.32],[-2.35,1.43],[-2.3,1.38],[-2.2,1.21],[-2.1,0.94],[-2.0,1.21],[-1.9,2.62],[-1.8,4.47],[-1.75,5.28],[-1.7,5.12],[-1.6,3.17],[-1.5,1.27],[-1.45,1.43],[-1.4,2.19],[-1.35,2.41],[-1.3,2.08],[-1.2,1.54],[-1.1,1.21],[-1.0,1.0],[-0.9,0.78],[-0.8,0.67],[-0.7,0.56],[-0.6,0.51],[-0.5,0.46],[-0.4,0.4],[-0.3,0.35],[-0.2,0.43],[-0.1,0.24],[0,0.24],[0.1,0.29],[0.2,0.24],[0.3,0.18],[0.5,0.15],[1.0,0.13],[1.5,0.1],[2.0,0.08],[2.3,0.02],[2.5,0]]
const mnDownC = [[-6,-0.09],[-4.5,-0.09],[-4.2,-0.07],[-3.8,-0.2],[-3.6,-0.25],[-3.4,-0.12],[-3.0,-0.08],[-2.5,-0.08],[-2.0,-0.1],[-1.5,-0.2],[-1.2,-0.3],[-0.8,-0.35],[-0.4,-0.4],[-0.2,-0.45],[0,-0.5],[0.1,-0.57],[0.2,-0.52],[0.3,-0.63],[0.4,-0.63],[0.5,-0.47],[0.6,-0.52],[0.7,-0.36],[0.8,-0.2],[0.9,-0.09],[1.0,-0.03],[1.1,-0.09],[1.15,-0.74],[1.2,-1.28],[1.3,-2.25],[1.4,-2.9],[1.5,-3.39],[1.55,-3.1],[1.6,-2.36],[1.7,-1.82],[1.8,-2.09],[1.9,-1.71],[2.0,-1.28],[2.1,-0.95],[2.2,-0.85],[2.3,-0.85],[2.4,-1.17],[2.5,-1.5],[2.55,-1.71],[2.6,-1.6],[2.7,-1.17],[2.8,-0.74],[2.9,-0.85],[3.0,-0.68],[3.1,-0.3],[3.2,-0.14],[3.3,-0.09],[3.35,-0.2],[3.4,-0.09],[3.5,-0.03],[3.6,0]]
const siUpC = [[-6,0.24],[-5,0.15],[-4.5,0.1],[-4,0.08],[-3.5,0.05],[-3.25,0.15],[-3.1,0.46],[-3,0.4],[-2.75,0.35],[-2.5,0.3],[-2.25,0.25],[-2,0.2],[-1.75,0.15],[-1.5,0.12],[-1,0.12],[0,0.15],[0.5,0.18],[1,0.2],[1.5,0.2],[2,0.15],[2.25,0.1],[2.5,0]]
const siDownC = [[-6,-0.1],[-5.75,-0.15],[-5.5,-0.25],[-5.25,-0.4],[-5.05,-0.95],[-4.75,-0.6],[-4.5,-0.45],[-4.25,-0.35],[-4,-0.25],[-3.75,-0.15],[-3.5,-0.1],[-3,-0.08],[-2.5,-0.1],[-2,-0.15],[-1.5,-0.2],[-1,-0.15],[-0.5,-0.1],[0,-0.08],[0.5,-0.05],[1,-0.05],[1.5,-0.08],[2,-0.15],[2.5,-0.25],[2.75,-0.25],[3,-0.15],[3.3,-0.3],[3.5,-0.1],[3.75,0]]

// ---- (d) GGA+U(Mn,Co) ----
const totalUpD = [[-6,3.74],[-5.9,3.52],[-5.8,2.93],[-5.7,3.42],[-5.6,5.59],[-5.52,7.0],[-5.5,6.89],[-5.4,4.93],[-5.3,2.77],[-5.2,2.49],[-5.1,3.31],[-5.05,4.3],[-5.0,4.0],[-4.9,3.09],[-4.8,2.55],[-4.7,2.28],[-4.6,2.17],[-4.5,2.98],[-4.4,4.5],[-4.3,6.67],[-4.25,7.6],[-4.2,6.13],[-4.1,4.28],[-4.0,3.85],[-3.9,3.63],[-3.8,1.57],[-3.7,0.27],[-3.65,0.27],[-3.6,0.6],[-3.5,1.03],[-3.4,1.19],[-3.3,0.98],[-3.2,0.92],[-3.1,0.92],[-3.0,0.6],[-2.9,0.98],[-2.8,0.87],[-2.7,0.7],[-2.6,0.92],[-2.5,0.81],[-2.4,0.6],[-2.3,0.98],[-2.2,0.76],[-2.1,0.49],[-2.0,0.7],[-1.9,0.81],[-1.8,0.6],[-1.7,0.54],[-1.6,0.65],[-1.5,0.49],[-1.4,0.54],[-1.3,0.92],[-1.2,0.7],[-1.1,0.54],[-1.0,0.49],[-0.9,0.54],[-0.8,0.49],[-0.7,0.54],[-0.6,0.57],[-0.5,0.6],[-0.4,0.49],[-0.3,0.65],[-0.2,0.38],[-0.1,0.33],[0,0.27],[0.1,0.38],[0.2,0.49],[0.3,0.62],[0.4,0.33],[0.5,0.38],[0.6,0.27],[0.7,0.33],[0.8,0.27],[0.9,0.29],[1.0,0.22],[1.1,0.24],[1.2,0.18],[1.4,0.11],[1.6,0.05],[1.8,0.02],[2.0,0]]
const totalDownD = [[-6,-0.27],[-5.9,-0.33],[-5.8,-0.38],[-5.7,-0.43],[-5.6,-0.49],[-5.5,-0.49],[-5.4,-0.6],[-5.3,-0.65],[-5.2,-0.7],[-5.1,-0.81],[-5.0,-1.25],[-4.9,-2.44],[-4.87,-3.31],[-4.8,-2.98],[-4.7,-2.22],[-4.6,-1.36],[-4.5,-1.68],[-4.4,-1.63],[-4.3,-1.79],[-4.2,-1.25],[-4.1,-1.25],[-4.0,-2.22],[-3.9,-3.63],[-3.85,-4.72],[-3.8,-4.5],[-3.7,-3.96],[-3.65,-4.18],[-3.6,-3.74],[-3.5,-3.96],[-3.45,-4.5],[-3.4,-4.39],[-3.3,-3.52],[-3.2,-2.44],[-3.1,-1.36],[-3.0,-0.92],[-2.9,-0.81],[-2.8,-0.76],[-2.7,-0.81],[-2.6,-0.7],[-2.5,-1.25],[-2.4,-0.81],[-2.3,-0.7],[-2.2,-0.81],[-2.1,-0.7],[-2.0,-0.81],[-1.9,-0.7],[-1.8,-0.92],[-1.7,-1.25],[-1.6,-0.81],[-1.5,-1.25],[-1.4,-0.92],[-1.3,-0.7],[-1.2,-0.6],[-1.1,-0.49],[-1.0,-0.6],[-0.9,-0.49],[-0.8,-0.38],[-0.7,-0.49],[-0.6,-0.6],[-0.5,-0.49],[-0.4,-0.65],[-0.3,-0.6],[-0.2,-0.7],[-0.1,-0.6],[0,-0.72],[0.1,-0.81],[0.2,-0.92],[0.3,-1.14],[0.4,-1.14],[0.5,-1.36],[0.6,-1.46],[0.7,-1.52],[0.8,-1.46],[0.9,-1.36],[1.0,-1.03],[1.1,-1.25],[1.2,-0.92],[1.3,-0.7],[1.4,-0.49],[1.5,-0.6],[1.6,-0.38],[1.7,-0.27],[1.75,-0.16],[1.8,-2.0],[1.85,-4.18],[1.9,-5.53],[2.0,-3.96],[2.1,-3.2],[2.2,-2.82],[2.3,-3.52],[2.4,-3.09],[2.5,-3.09],[2.6,-2.77],[2.7,-3.04],[2.8,-3.04],[2.9,-2.87],[3.0,-2.71],[3.1,-3.74],[3.2,-5.2],[3.3,-3.63],[3.38,-2.3],[3.43,-3.0],[3.5,-7.6],[3.57,-2.0],[3.62,-0.6],[3.7,-0.11],[3.8,-0.03],[4.0,0]]
const coUpD = [[-6,2.55],[-5.9,2.44],[-5.8,1.9],[-5.7,2.33],[-5.6,4.5],[-5.53,5.37],[-5.5,5.31],[-5.4,3.63],[-5.3,2.11],[-5.2,1.95],[-5.1,2.66],[-5.05,3.58],[-5.0,3.2],[-4.9,2.11],[-4.8,1.36],[-4.7,1.19],[-4.6,1.08],[-4.5,1.57],[-4.4,1.84],[-4.3,2.22],[-4.25,2.44],[-4.2,2.11],[-4.1,1.57],[-4.0,1.36],[-3.9,1.14],[-3.8,0.6],[-3.7,0.16],[-3.6,0.16],[-3.5,0.22],[-3.4,0.16],[-3.3,0.11],[-3.0,0.11],[-2.5,0.08],[-2.0,0.05],[0,0.05],[1,0.03],[2,0]]
const coDownD = [[-6,-0.16],[-5.8,-0.22],[-5.6,-0.33],[-5.4,-0.49],[-5.2,-0.65],[-5.1,-0.81],[-5.0,-1.25],[-4.9,-1.79],[-4.87,-1.9],[-4.8,-1.79],[-4.7,-1.68],[-4.6,-1.25],[-4.55,-1.14],[-4.5,-1.36],[-4.4,-1.41],[-4.3,-1.36],[-4.2,-1.03],[-4.15,-1.01],[-4.1,-1.25],[-4.0,-2.22],[-3.9,-3.52],[-3.85,-4.5],[-3.8,-4.18],[-3.7,-3.42],[-3.65,-2.55],[-3.6,-2.66],[-3.5,-3.52],[-3.45,-3.9],[-3.4,-3.74],[-3.3,-3.09],[-3.2,-2.22],[-3.1,-0.92],[-3.0,-0.6],[-2.9,-0.49],[-2.7,-0.38],[-2.5,-0.33],[-2.0,-0.27],[-1.5,-0.22],[-1.0,-0.16],[-0.5,-0.14],[0,-0.15],[0.2,-0.22],[0.4,-0.27],[0.6,-0.49],[0.8,-0.54],[1.0,-0.49],[1.2,-0.33],[1.4,-0.22],[1.6,-0.16],[1.7,-0.14],[1.8,-0.33],[1.9,-0.49],[2.0,-0.43],[2.1,-0.38],[2.2,-0.49],[2.3,-0.65],[2.4,-0.76],[2.5,-0.81],[2.6,-0.81],[2.7,-0.92],[2.8,-1.08],[2.9,-1.25],[3.0,-1.57],[3.1,-2.22],[3.2,-3.5],[3.3,-2.55],[3.37,-1.36],[3.43,-2.5],[3.5,-6.7],[3.57,-1.5],[3.62,-0.4],[3.7,-0.05],[3.8,0]]
const mnUpD = [[-6,1.08],[-5.9,0.92],[-5.8,0.92],[-5.7,1.08],[-5.6,1.12],[-5.5,0.98],[-5.4,0.76],[-5.3,0.49],[-5.2,0.38],[-5.1,0.38],[-5.0,0.47],[-4.9,0.49],[-4.8,0.54],[-4.7,0.92],[-4.6,1.25],[-4.5,1.9],[-4.4,2.55],[-4.35,2.77],[-4.3,3.96],[-4.25,5.1],[-4.2,4.61],[-4.1,2.98],[-4.0,2.44],[-3.9,2.33],[-3.8,1.46],[-3.7,0.38],[-3.65,0.16],[-3.6,0.22],[-3.5,0.49],[-3.4,0.43],[-3.3,0.27],[-3.2,0.22],[-3.0,0.16],[-2.5,0.11],[-2.0,0.08],[0,0.08],[1.5,0.05],[2,0]]
const mnDownD = [[-6,-0.05],[-4,-0.05],[-3.8,-0.1],[-2,-0.12],[-1.0,-0.12],[-0.5,-0.2],[0,-0.22],[0.2,-0.33],[0.4,-0.49],[0.6,-0.54],[0.7,-0.6],[0.8,-0.54],[1.0,-0.38],[1.2,-0.27],[1.4,-0.14],[1.6,-0.08],[1.7,-0.11],[1.75,-2.0],[1.8,-3.09],[1.9,-4.5],[2.0,-3.63],[2.1,-2.55],[2.2,-1.79],[2.25,-1.57],[2.3,-2.0],[2.4,-1.79],[2.5,-1.68],[2.6,-1.36],[2.7,-1.68],[2.8,-1.36],[2.9,-1.08],[3.0,-1.14],[3.1,-1.25],[3.2,-1.36],[3.3,-0.81],[3.4,-0.6],[3.5,-0.49],[3.6,-0.22],[3.7,-0.05],[3.8,0]]
const siUpD = [[-6,0.1],[-5.75,0.1],[-5.5,0.25],[-5.25,0.15],[-5,0.1],[-4.5,0.05],[-4,0.05],[-3.5,0.08],[-3,0.1],[-2.5,0.12],[-2,0.15],[-1,0.15],[-0.5,0.18],[0,0.2],[0.5,0.2],[1,0.15],[1.5,0.1],[1.75,0.05],[2,0]]
const siDownD = [[-6,-0.15],[-5.75,-0.2],[-5.5,-0.25],[-5.25,-0.35],[-5,-0.5],[-4.88,-0.92],[-4.75,-0.75],[-4.5,-0.5],[-4.25,-0.35],[-4,-0.2],[-3.5,-0.1],[-3,-0.08],[-2,-0.1],[-1.5,-0.15],[-1,-0.15],[-0.5,-0.12],[0,-0.1],[0.5,-0.1],[1,-0.08],[1.5,-0.08],[1.75,-0.1],[2,-0.15],[2.25,-0.2],[2.6,-0.33],[2.75,-0.2],[3,-0.15],[3.25,-0.2],[3.5,-0.33],[3.75,-0.05],[4,0]]

// ---- annotations (energy, DOS) : text anchor + arrow tail -> head ----
const notesA = [
  { kind: 't', at: [-0.76, -6.04], from: [-0.61, -4.09], to: [-0.75, -2.3] },
  { kind: 'e', at: [0.12, -6.52], from: [0.32, -5.13], to: [0.52, -3.12] }
]
const notesB = [
  { kind: 't', at: [-0.47, -6.0], from: [-0.37, -4.29], to: [-0.69, -2.93] },
  { kind: 'e', at: [1.6, -4.19], from: [1.47, -3.42], to: [0.92, -2.9] }
]
const notesC = [
  { kind: 't', at: [-2.24, -4.05], from: [-2.35, -3.46], to: [-2.94, -2.91] },
  { kind: 'e', at: [4.3, -5.03], from: [4.14, -4.29], to: [3.58, -3.71] }
]
const notesD = [
  { kind: 't', at: [-2.43, -3.64], from: [-2.59, -3.19], to: [-3.09, -2.61] },
  { kind: 'e', at: [4.37, -4.77], from: [4.24, -3.9], to: [3.7, -3.4] }
]

const legendRows = [
  { name: 'Co ', orbital: 'd', extra: ' (\u00d7 2)', color: '#ff0000' },
  { name: 'Mn ', orbital: 'd', extra: '', color: '#0000ff' },
  { name: 'Si ', orbital: 'p', extra: '', color: '#1f8c1f' }
]

const panels = [
  { canvas: 'dosA', tag: '(a) GGA', sub: '', totalUp: totalUpA, totalDown: totalDownA, coUp: coUpA, coDown: coDownA, mnUp: mnUpA, mnDown: mnDownA, siUp: siUpA, siDown: siDownA, notes: notesA },
  { canvas: 'dosB', tag: '(b) GGA+U', sub: 'Mn', totalUp: totalUpB, totalDown: totalDownB, coUp: coUpB, coDown: coDownB, mnUp: mnUpB, mnDown: mnDownB, siUp: siUpB, siDown: siDownB, notes: notesB },
  { canvas: 'dosC', tag: '(c) GGA+U', sub: 'Co', totalUp: totalUpC, totalDown: totalDownC, coUp: coUpC, coDown: coDownC, mnUp: mnUpC, mnDown: mnDownC, siUp: siUpC, siDown: siDownC, notes: notesC },
  { canvas: 'dosD', tag: '(d) GGA+U', sub: 'Mn,Co', totalUp: totalUpD, totalDown: totalDownD, coUp: coUpD, coDown: coDownD, mnUp: mnUpD, mnDown: mnDownD, siUp: siUpD, siDown: siDownD, notes: notesD }
]

const fontFamily = '"Liberation Sans", Arial, sans-serif'
const toPoints = pairs => pairs.map(([x, y]) => ({ x, y }))

function put(ctx, text, x, y, size, italic) {
  ctx.font = (italic ? 'italic ' : '') + size + 'px ' + fontFamily
  ctx.fillText(text, x, y)
  return ctx.measureText(text).width
}

function arrow(ctx, x1, y1, x2, y2) {
  const ang = Math.atan2(y2 - y1, x2 - x1)
  const len = 17
  const half = 6.5
  ctx.lineWidth = 2.5
  ctx.beginPath()
  ctx.moveTo(x1, y1)
  ctx.lineTo(x2 - Math.cos(ang) * len * 0.8, y2 - Math.sin(ang) * len * 0.8)
  ctx.stroke()
  ctx.beginPath()
  ctx.moveTo(x2, y2)
  ctx.lineTo(x2 - Math.cos(ang) * len - Math.sin(ang) * half, y2 - Math.sin(ang) * len + Math.cos(ang) * half)
  ctx.lineTo(x2 - Math.cos(ang) * len + Math.sin(ang) * half, y2 - Math.sin(ang) * len - Math.cos(ang) * half)
  ctx.closePath()
  ctx.fill()
}

function decor(panel, isLast) {
  return {
    id: 'decor',
    afterDatasetsDraw(chart) {
      const { ctx, chartArea: a, scales: { x, y } } = chart
      ctx.save()
      ctx.strokeStyle = '#000'
      ctx.fillStyle = '#000'

      // zero lines
      const y0 = y.getPixelForValue(0)
      const x0 = x.getPixelForValue(0)
      ctx.lineWidth = 2.6
      ctx.beginPath(); ctx.moveTo(a.left, y0); ctx.lineTo(a.right, y0); ctx.stroke()
      ctx.lineWidth = 2
      ctx.beginPath(); ctx.moveTo(x0, a.top); ctx.lineTo(x0, a.bottom); ctx.stroke()

      // inward ticks
      ctx.lineWidth = 2
      for (let e = -6; e <= 6; e += 0.5) {
        const px = x.getPixelForValue(e)
        const l = Number.isInteger(e) ? 15 : 8
        ctx.beginPath()
        ctx.moveTo(px, a.top); ctx.lineTo(px, a.top + l)
        ctx.moveTo(px, a.bottom); ctx.lineTo(px, a.bottom - l)
        ctx.stroke()
      }
      for (let v = -6; v <= 6; v += 1.5) {
        const py = y.getPixelForValue(v)
        const l = v % 3 === 0 ? 15 : 8
        ctx.beginPath()
        ctx.moveTo(a.left, py); ctx.lineTo(a.left + l, py)
        ctx.moveTo(a.right, py); ctx.lineTo(a.right - l, py)
        ctx.stroke()
      }

      // frame
      ctx.lineWidth = 3
      ctx.strokeRect(a.left, a.top, a.right - a.left, a.bottom - a.top)

      // y tick labels (absolute values)
      ctx.textAlign = 'right'
      ctx.textBaseline = 'middle'
      yTickLabels.forEach(v => put(ctx, String(Math.abs(v)), a.left - 30, y.getPixelForValue(v) + 1, 40, false))

      // x tick labels only under the last panel
      if (isLast) {
        ctx.textAlign = 'center'
        ctx.textBaseline = 'alphabetic'
        xTickLabels.forEach(v => put(ctx, v < 0 ? '\u2212' + Math.abs(v) : String(v), x.getPixelForValue(v), a.bottom + 64, 46, false))
      }

      // legend
      ctx.textAlign = 'left'
      ctx.textBaseline = 'middle'
      legendRows.forEach((row, i) => {
        const ly = a.top + 51 + i * 45
        ctx.strokeStyle = row.color
        ctx.lineWidth = 4
        ctx.beginPath(); ctx.moveTo(a.left + 862, ly); ctx.lineTo(a.left + 924, ly); ctx.stroke()
        let lx = a.left + 950
        lx += put(ctx, row.name, lx, ly, 36, false)
        lx += put(ctx, row.orbital, lx, ly, 36, true)
        if (row.extra) put(ctx, row.extra, lx, ly, 36, false)
      })
      ctx.strokeStyle = '#000'

      // panel label
      ctx.textBaseline = 'alphabetic'
      const base = y0 + 197
      const w = put(ctx, panel.tag, a.left + 28, base, 50, false)
      if (panel.sub) {
        put(ctx, 'LR', a.left + 28 + w + 3, base - 25, 35, false)
        put(ctx, panel.sub, a.left + 28 + w + 3, base + 14, 35, false)
      }

      // annotations
      panel.notes.forEach(n => {
        const tx = x.getPixelForValue(n.at[0])
        const ty = y.getPixelForValue(n.at[1])
        if (n.kind === 't') {
          const tw = put(ctx, 't', tx, ty, 44, true)
          put(ctx, '*', tx + tw + 3, ty - 18, 30, false)
          put(ctx, '2g', tx + tw + 2, ty + 8, 32, true)
        } else {
          const ew = put(ctx, 'e', tx, ty, 44, true)
          put(ctx, 'u', tx + ew + 1, ty + 12, 32, true)
        }
        arrow(ctx, x.getPixelForValue(n.from[0]), y.getPixelForValue(n.from[1]),
          x.getPixelForValue(n.to[0]), y.getPixelForValue(n.to[1]))
      })
      ctx.restore()
    }
  }
}

function buildDatasets(p) {
  const line = (pairs, color) => ({
    data: toPoints(pairs), borderColor: color, borderWidth: 3,
    pointRadius: 0, fill: false, tension: 0
  })
  const total = pairs => ({
    data: toPoints(pairs), borderColor: '#1c1c1c', borderWidth: 1.6,
    pointRadius: 0, fill: 'origin', backgroundColor: '#b3b3b3', tension: 0
  })
  return [
    line(p.coUp, '#ff0000'), line(p.coDown, '#ff0000'),
    line(p.mnUp, '#0000ff'), line(p.mnDown, '#0000ff'),
    line(p.siUp, '#1f8c1f'), line(p.siDown, '#1f8c1f'),
    total(p.totalUp), total(p.totalDown)
  ]
}

panels.forEach((p, i) => {
  const canvas = document.getElementById(p.canvas)
  const isLast = i === panels.length - 1
  new Chart(canvas.getContext('2d'), {
    type: 'line',
    data: { datasets: buildDatasets(p) },
    options: {
      responsive: false,
      maintainAspectRatio: false,
      animation: false,
      devicePixelRatio: 1,
      events: [],
      layout: { padding: { left: 162, right: 16, top: 1, bottom: canvas.height - 462 } },
      scales: {
        x: { type: 'linear', min: -6, max: 6, display: false },
        y: { type: 'linear', min: -yLimit, max: yLimit, display: false }
      },
      plugins: { legend: { display: false }, tooltip: { enabled: false } }
    },
    plugins: [decor(p, isLast)]
  })
})

// axis titles stretched to the lengths seen in the figure
function fitTitle(id, length, rotate) {
  const el = document.getElementById(id)
  const m = document.createElement('canvas').getContext('2d')
  m.font = el.style.fontSize + ' ' + fontFamily
  const k = length / m.measureText(el.textContent).width
  el.style.transform = 'translate(-50%,-50%)' + (rotate ? ' rotate(-90deg)' : '') + ' scaleX(' + k + ')'
}
fitTitle('yTitle', 864, true)
fitTitle('xTitle', 272, false)
</script>
</body>
</html>
